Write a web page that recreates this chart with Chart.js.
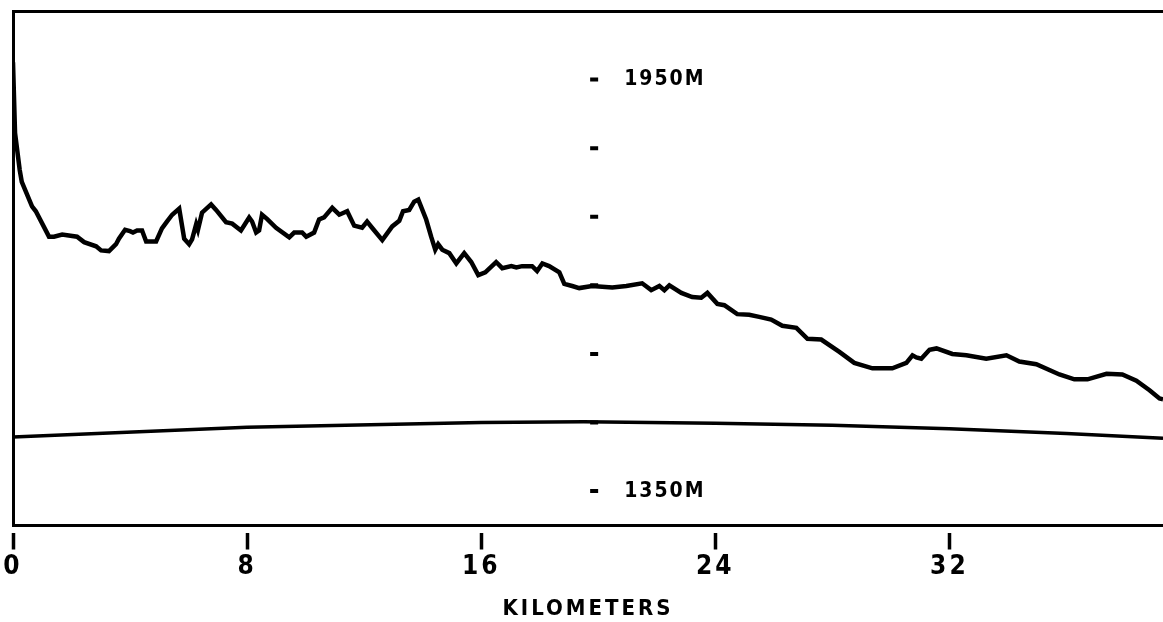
<!DOCTYPE html>
<html>
<head>
<meta charset="utf-8">
<script src="https://cdn.jsdelivr.net/npm/chart.js@4.4.1/dist/chart.umd.min.js"></script>
<style>
  html, body { margin: 0; padding: 0; background: #fff; }
  canvas { display: block; }
</style>
</head>
<body>
<canvas id="profileChart" width="1163" height="622"></canvas>
<script>
// terrain profile along the path (km, metres)
const profileKm = [0, 0.07, 0.23, 0.30, 0.65, 0.78, 1.23, 1.40, 1.68, 2.19, 2.43, 2.84, 3.01, 3.28, 3.52, 3.62, 3.83, 4.00, 4.10, 4.24,
    4.41, 4.55, 4.89, 5.09, 5.26, 5.44, 5.68, 5.85, 6.02, 6.12, 6.26, 6.32, 6.46, 6.77, 6.94, 7.28, 7.49, 7.79, 8.07, 8.17,
    8.31, 8.41, 8.51, 8.68, 8.99, 9.44, 9.61, 9.88, 10.02, 10.29, 10.46, 10.63, 10.91, 11.15, 11.42, 11.66, 11.93, 12.10, 12.27, 12.62,
    12.96, 13.20, 13.33, 13.54, 13.71, 13.85, 14.12, 14.29, 14.43, 14.53, 14.67, 14.91, 15.15, 15.42, 15.66, 15.90, 16.14, 16.51, 16.72, 17.03,
    17.20, 17.40, 17.74, 17.91, 18.09, 18.32, 18.67, 18.84, 19.11, 19.35, 19.79, 20.48, 20.96, 21.50, 21.81, 22.09, 22.26, 22.43, 22.84, 23.21,
    23.52, 23.73, 24.07, 24.31, 24.75, 25.16, 25.50, 25.91, 26.29, 26.77, 27.15, 27.62, 28.24, 28.75, 29.37, 30.05, 30.53, 30.74, 30.87, 31.04,
    31.32, 31.56, 32.10, 32.58, 33.26, 33.95, 34.39, 34.97, 35.76, 36.27, 36.72, 37.37, 37.91, 38.39, 38.84, 39.18, 39.30];
const profileElev = [1975, 1872, 1818, 1801, 1765, 1758, 1721, 1721, 1724, 1721, 1713, 1707, 1701, 1700, 1710, 1718, 1731, 1729, 1727, 1730,
    1730, 1714, 1714, 1733, 1743, 1753, 1762, 1718, 1710, 1717, 1739, 1731, 1756, 1768, 1760, 1742, 1740, 1730, 1749, 1743,
    1727, 1730, 1753, 1747, 1734, 1720, 1727, 1727, 1721, 1727, 1746, 1749, 1763, 1753, 1758, 1737, 1734, 1743, 1734, 1716,
    1736, 1744, 1758, 1760, 1772, 1775, 1746, 1721, 1702, 1710, 1702, 1697, 1682, 1697, 1684, 1665, 1669, 1684, 1675, 1678,
    1676, 1678, 1678, 1671, 1682, 1678, 1669, 1652, 1649, 1646, 1649, 1647, 1649, 1653, 1643, 1649, 1643, 1650, 1639, 1633,
    1632, 1639, 1623, 1621, 1608, 1607, 1604, 1600, 1591, 1588, 1572, 1571, 1553, 1537, 1529, 1529, 1537, 1548, 1545, 1543,
    1556, 1558, 1550, 1548, 1543, 1548, 1539, 1535, 1520, 1513, 1513, 1521, 1520, 1511, 1497, 1485, 1484];

// earth curvature reference line
const earthKm = [0, 8, 16, 19.5, 24, 28, 32, 36, 39.3];
const earthElev = [1429, 1443, 1450, 1451, 1449, 1446, 1441, 1434, 1427];

const kmTicks = [0, 8, 16, 24, 32];
const elevTicks = [1350, 1450, 1550, 1650, 1750, 1850, 1950];
const labelledElev = [1950, 1350];
const labelledText = ['1950M', '1350M'];
const tickColumnKm = 19.86;

const FONT = "'Liberation Sans Narrow', 'DejaVu Sans Condensed', 'DejaVu Sans', sans-serif";

const elevationLabels = {
    id: 'elevationLabels',
    beforeDraw(chart) {
        chart.ctx.letterSpacing = '3px';
    },
    afterDatasetsDraw(chart) {
        const ctx = chart.ctx;
        const x = chart.scales.x.getPixelForValue(tickColumnKm);
        ctx.save();
        ctx.letterSpacing = '2px';
        ctx.font = 'bold 21px ' + FONT;
        ctx.fillStyle = '#000';
        ctx.textAlign = 'left';
        ctx.textBaseline = 'middle';
        labelledElev.forEach((v, i) => {
            ctx.fillText(labelledText[i], x + 30, chart.scales.y.getPixelForValue(v));
        });
        ctx.restore();
    }
};

const toPoints = (xs, ys) => xs.map((x, i) => ({ x: x, y: ys[i] }));

new Chart(document.getElementById('profileChart'), {
    type: 'scatter',
    data: {
        datasets: [{
            data: toPoints(profileKm, profileElev),
            showLine: true,
            borderColor: '#000',
            borderWidth: 4.5,
            pointRadius: 0,
            tension: 0
        }, {
            data: toPoints(earthKm, earthElev),
            showLine: true,
            borderColor: '#000',
            borderWidth: 3.5,
            pointRadius: 0,
            tension: 0
        }, {
            data: elevTicks.map(v => ({ x: tickColumnKm, y: v })),
            showLine: false,
            pointStyle: 'line',
            pointRadius: 4,
            pointBorderWidth: 4,
            pointBorderColor: '#000',
            pointBackgroundColor: '#000'
        }]
    },
    options: {
        responsive: false,
        animation: false,
        layout: { autoPadding: false, padding: { top: 11, left: 13, right: 0, bottom: 0 } },
        plugins: {
            legend: { display: false },
            tooltip: { enabled: false }
        },
        scales: {
            x: {
                type: 'linear',
                position: 'bottom',
                min: 0,
                max: 39.3,
                afterBuildTicks: scale => { scale.ticks = kmTicks.map(v => ({ value: v })); },
                grid: {
                    display: true,
                    drawOnChartArea: false,
                    drawTicks: true,
                    tickLength: 24,
                    tickWidth: 3.5,
                    tickColor: '#000',
                    tickBorderDash: [0, 6, 17, 40]
                },
                border: { display: true, color: '#000', width: 3 },
                ticks: {
                    color: '#000',
                    padding: 2,
                    maxRotation: 0,
                    font: { family: FONT, size: 26, weight: 'bold' }
                },
                title: {
                    display: true,
                    text: 'KILOMETERS',
                    color: '#000',
                    padding: { top: 11, bottom: 0 },
                    font: { family: FONT, size: 22, weight: 'bold' }
                }
            },
            xTop: {
                type: 'linear',
                position: 'top',
                min: 0,
                max: 39.3,
                grid: { display: false, drawTicks: false },
                border: { display: true, color: '#000', width: 3 },
                ticks: { display: false }
            },
            y: {
                type: 'linear',
                position: 'left',
                min: 1300,
                max: 2050,
                grid: { display: false, drawTicks: false },
                border: { display: true, color: '#000', width: 3 },
                ticks: { display: false }
            }
        }
    },
    plugins: [elevationLabels]
});
</script>
</body>
</html>
